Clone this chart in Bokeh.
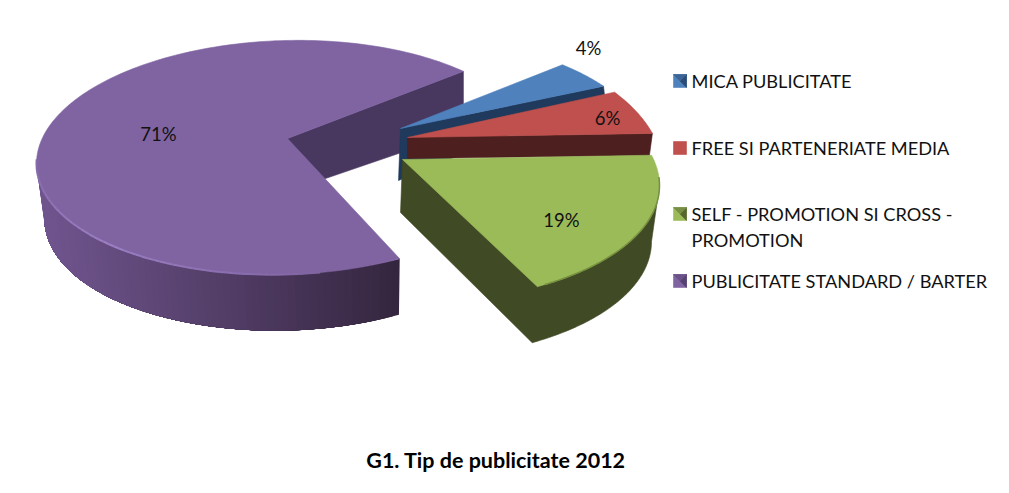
import math
from bokeh.plotting import figure
from bokeh.models import Range1d
from bokeh.core.properties import value
from bokeh.embed import file_html
from bokeh.resources import INLINE

# ---- data ----
categories = ["MICA PUBLICITATE", "FREE SI PARTENERIATE MEDIA",
              "SELF - PROMOTION SI CROSS -\nPROMOTION", "PUBLICITATE STANDARD / BARTER"]
shares = [4, 6, 19, 71]
title_text = "G1. Tip de publicitate 2012"

# ---- style / projection ----
FONT = "Lato"
START_ANGLE = 42.0
FACE = ["#4f81bd", "#c0504d", "#9bbb59", "#8064a2"]
WALL = ["#1f3a5c", "#4d1f1f", "#404a24", "#48375f"]
# projected ellipse of every exploded slice: top ellipse, bottom ellipse, apex, apex bottom
GEOM = [
    dict(c=(398, 139), r=(245, 105), k=5, cb=(398, 148), rb=(245, 105), apex=(400, 128), apexb=(398, 180), off=(0.0, 0.4)),
    dict(c=(405, 165), r=(257, 133), k=5, cb=(402, 187), rb=(257, 133), apex=(407, 137), apexb=(407, 158), off=(-2.0, -4.1)),
    dict(c=(400, 180), r=(259, 122), k=5, cb=(398, 236), rb=(253, 122), apex=(402, 159), apexb=(400, 212), off=(-2.3, 1.7)),
    dict(c=(285, 157), r=(249, 117), k=-6, cb=(287, 213), rb=(243, 117), apex=(287, 138), apexb=(287, 191), off=(6.3, 3.6)),
]
LABEL_POS = [(588, 47.5), (607, 117), (561, 219), (158, 133)]
LEG_X, LEG_Y = 673, [74, 141, 207, 274]
W, H = 1000, 485


def pt(g, deg, bottom=False):
    a = math.radians(deg)
    (cx, cy), (rx, ry) = (g["cb"], g["rb"]) if bottom else (g["c"], g["r"])
    return cx + rx * math.sin(a), cy - ry * math.cos(a) + g["k"] * math.sin(a)


def arc(g, a0, a1, bottom=False, n=80):
    return [pt(g, a0 + (a1 - a0) * i / n, bottom) for i in range(n + 1)]


def mix(c1, c2, t):
    a = [int(c1[i:i + 2], 16) for i in (1, 3, 5)]
    b = [int(c2[i:i + 2], 16) for i in (1, 3, 5)]
    return "#%02x%02x%02x" % tuple(round(a[i] + (b[i] - a[i]) * t) for i in range(3))


p = figure(width=W, height=H, output_backend="svg", toolbar_location=None,
           x_range=Range1d(0, W), y_range=Range1d(H, 0), min_border=0)
p.axis.visible = False
p.grid.visible = False
p.outline_line_color = None
p.background_fill_color = "white"
p.border_fill_color = "white"


def poly(points, color, lw=0.6):
    p.patch([q[0] for q in points], [q[1] for q in points], fill_color=color,
            line_color=color, line_width=lw)


# angular spans come from the shares
spans, acc = [], START_ANGLE
for s in shares:
    spans.append((acc, acc + s * 3.6))
    acc += s * 3.6
spans = [(a + g["off"][0], b + g["off"][1]) for (a, b), g in zip(spans, GEOM)]

# purple slice (drawn first, it lies behind)
g = GEOM[3]
a0, a1 = spans[3]
end = pt(g, a1)
endb = (end[0], g["apexb"][1] + (end[1] - g["apex"][1]) * 0.97 + 5)
poly([g["apex"], end, endb, g["apexb"]], WALL[3])
# curved wall: each band overlaps all the later ones, so no seams show
N = 70
for i in range(N):
    t0 = a0 + (270 - a0) * i / N
    xm = pt(g, t0)[0]
    f = (xm - 36) / (399 - 36)
    col = mix("#70558f", "#35263f", min(1, max(0, f)) ** 1.05)
    poly(arc(g, t0, 270, n=50) + arc(g, 270, t0, True, n=50), col, lw=0)
poly([g["apex"]] + arc(g, a0, a1, n=200), FACE[3])
# bevel highlight
B = 60
for i in range(B):
    t0 = 172 + (272 - 172) * i / B
    t1 = 172 + (272 - 172) * (i + 1) / B
    f = 1 - abs((t0 - 225) / 55)
    col = mix(FACE[3], "#9b80c4", max(0, min(1, f)))
    q0, q1 = pt(g, t0), pt(g, t1)
    p.line([q0[0], q1[0]], [q0[1], q1[1]], line_color=col, line_width=2)

# blue slice
g = GEOM[0]
a0, a1 = spans[0]
tip = pt(g, a1)
poly([g["apex"], tip, (tip[0] + 1, tip[1] + 9), g["apexb"]], WALL[0])
poly([g["apex"]] + arc(g, a0, a1), FACE[0])

# red slice
g = GEOM[1]
a0, a1 = spans[1]
tip = pt(g, a1)
poly([g["apex"], tip, (tip[0] - 3, tip[1] + 22), g["apexb"]], WALL[1])
poly([g["apex"]] + arc(g, a0, a1), FACE[1])

# green slice: the walls as one polygon, then the face on top
g = GEOM[2]
a0, a1 = spans[2]
poly([g["apex"], pt(g, 90)] + arc(g, 90, a1, True) + [g["apexb"]], WALL[2])
poly([g["apex"]] + arc(g, a0, a1), FACE[2])
arc_pts = arc(g, 86, a1 - 2)
p.line([q[0] for q in arc_pts], [q[1] for q in arc_pts], line_color="#76903f", line_width=1.5)

# value labels
p.text([q[0] for q in LABEL_POS], [q[1] for q in LABEL_POS], text=[f"{s}%" for s in shares],
       text_font=value(FONT), text_font_size="18.5px", text_color="#111111",
       text_align="center", text_baseline="middle")

# legend: pyramid shaded swatches and text
for y, face, wall, label in zip(LEG_Y, FACE, WALL, categories):
    x = LEG_X
    S = 13
    m = (x + S / 2, y + S / 2)
    poly([(x, y), (x + S, y), (x + S, y + S), (x, y + S)], face)
    if face != FACE[1]:
        poly([(x + S, y), (x + S, y + S), m], mix(face, wall, 0.75))
        poly([(x, y), (x + S, y), m], mix(face, wall, 0.4))
    lines = label.split("\n")
    yy = y + 6.5
    for j, line in enumerate(lines):
        p.text([691], [yy + 26 * j], text=[line], text_font=value(FONT), text_font_size="18.2px",
               text_color="#111111", text_align="left", text_baseline="middle")

p.text([495.5], [459.5], text=[title_text], text_font=value(FONT), text_font_size="21.5px",
       text_font_style="bold", text_color="#000000", text_align="center", text_baseline="middle")

open("out.html", "w").write(file_html(p, INLINE))
